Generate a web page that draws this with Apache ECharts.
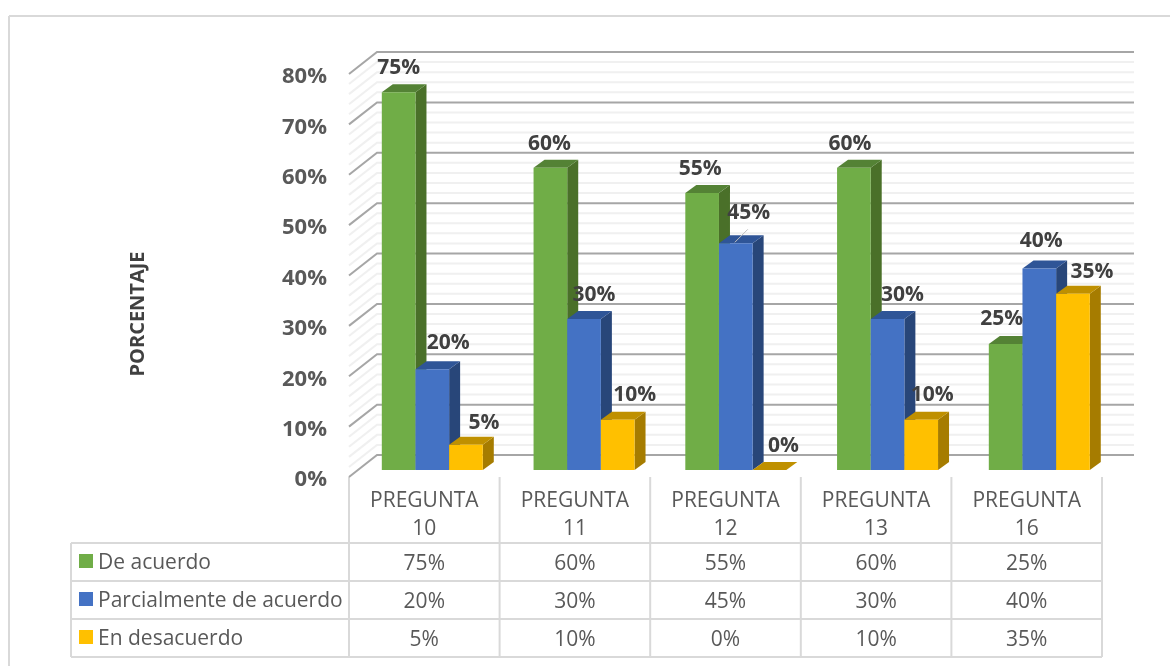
<!DOCTYPE html>
<html><head><meta charset="utf-8">
<style>html,body{margin:0;padding:0;background:#fff}#c{width:1170px;height:666px}</style>
<script src="https://cdn.jsdelivr.net/npm/echarts@6/dist/echarts.min.js"></script>
</head><body><div id="c"></div>
<script>
const categories = ['PREGUNTA\n10','PREGUNTA\n11','PREGUNTA\n12','PREGUNTA\n13','PREGUNTA\n16'];
const deAcuerdo = [75,60,55,60,25];
const parcialmente = [20,30,45,30,40];
const enDesacuerdo = [5,10,0,10,35];
const seriesNames = ['De acuerdo','Parcialmente de acuerdo','En desacuerdo'];
const majorTicks = [0,10,20,30,40,50,60,70,80];
const minorTicks = [2,4,6,8,12,14,16,18,22,24,26,28,32,34,36,38,42,44,46,48,52,54,56,58,62,64,66,68,72,74,76,78];

// layout and style, separate from the data
const FONT = '"Open Sans", sans-serif';
const G = {left:349, top:74, width:753, height:403};
const BAR = {dx:8, dy:-7, depthX:11, depthY:-8, frac:0.2235, drift:1.15};
const WALL = {dx:28, dy:-22};
const PAL = [
  {f:'#70AD47', s:'#4A7029', t:'#548235'},
  {f:'#4472C4', s:'#284679', t:'#2F5597'},
  {f:'#FFC000', s:'#A67C00', t:'#BF9000'}];
// label centre relative to the top-centre of the bar's front face
const NUDGE = [
  [[0,-24],[-1,-24],[-2,-24],[-4,-24],[-4,-25]],
  [[16,-26],[10,-24],[13,-30],[15,-24],[2,-27]],
  [[18,-22],[17,-25],[14,-24],[11,-25],[19,-22]]];

function wallSeries(ticks, color, width){
  return {type:'custom', coordinateSystem:'cartesian2d', silent:true, z:1,
    data:ticks.map(v=>[0,v]),
    encode:{x:0,y:1},
    renderItem(p,api){
      const y = api.coord([0,api.value(1)])[1];
      const cs = p.coordSys;
      return {type:'polyline', shape:{points:[
        [cs.x, y],[cs.x+WALL.dx, y+WALL.dy],[cs.x+cs.width+WALL.dx+4, y+WALL.dy]]},
        style:{stroke:color, lineWidth:width, fill:null}};
    }};
}
function barSeries(idx, values){
  const c = PAL[idx];
  return {type:'custom', name:seriesNames[idx], coordinateSystem:'cartesian2d', z:2,
    data:values.map((v,i)=>[i,v]),
    encode:{x:0,y:1},
    renderItem(p,api){
      const ci = api.value(0), v = api.value(1);
      const top = api.coord([ci,v]), base = api.coord([ci,0]);
      const w = api.size([1,0])[0]*BAR.frac;
      const x0 = top[0]+BAR.dx+ci*BAR.drift+(idx-1.5)*w, x1 = x0+w;
      const y1 = top[1]+BAR.dy, y0 = base[1]+BAR.dy;
      const dX = BAR.depthX, dY = BAR.depthY;
      const n = NUDGE[idx][ci];
      const kids = [
        {type:'polygon', shape:{points:[[x1,y0],[x1+dX,y0+dY],[x1+dX,y1+dY],[x1,y1]]}, style:{fill:c.s}},
        {type:'polygon', shape:{points:[[x0,y1],[x0+dX,y1+dY],[x1+dX,y1+dY],[x1,y1]]}, style:{fill:c.t}},
        {type:'rect', shape:{x:x0,y:y1,width:w,height:y0-y1}, style:{fill:c.f}},
        {type:'text', z2:100, style:{text:v+'%', x:x0+w/2+n[0], y:y1+n[1], align:'center', verticalAlign:'middle',
          font:'bold 21px '+FONT, fill:'#404040'}}];
      if(idx===1 && ci===2){
        kids.push({type:'line', z2:90, shape:{x1:x0+w/2-1,y1:y1-1,x2:x0+w/2+12,y2:y1-14}, style:{stroke:'#BFBFBF',lineWidth:1}});
      }
      return {type:'group', children:kids};
    }};
}

// data table under the plot
const GRID_LINE = '#D9D9D9';
const colX = categories.map((_,i)=>G.left+G.width*i/categories.length);
const rowY = [543,581,619,657];
const TABLE_LEFT = 71;
const gfx = [];
function seg(x1,y1,x2,y2){gfx.push({type:'line',shape:{x1,y1,x2,y2},style:{stroke:GRID_LINE,lineWidth:2}});}
rowY.forEach(y=>seg(TABLE_LEFT,y,G.left+G.width,y));
seg(TABLE_LEFT,rowY[0],TABLE_LEFT,rowY[3]);
colX.concat([G.left+G.width]).forEach(x=>seg(x,G.top+G.height,x,rowY[3]));
[deAcuerdo,parcialmente,enDesacuerdo].forEach((vals,r)=>{
  const cy=(rowY[r]+rowY[r+1])/2;
  gfx.push({type:'rect',shape:{x:79,y:cy-8,width:14,height:14},style:{fill:PAL[r].f}});
  gfx.push({type:'text',style:{text:seriesNames[r],x:98,y:cy+1,verticalAlign:'middle',font:'21px '+FONT,fill:'#595959'}});
  vals.forEach((v,i)=>gfx.push({type:'text',style:{text:v+'%',x:colX[i]+G.width/10,y:cy+2,align:'center',verticalAlign:'middle',font:'21px '+FONT,fill:'#595959'}}));
});
// chart frame: only the top and left edges fall inside the picture
seg(9,16,1170,16);
seg(9,16,9,666);
gfx.push({type:'text',rotation:Math.PI/2,x:138,y:314,style:{text:'PORCENTAJE',align:'center',verticalAlign:'middle',font:'bold 20px '+FONT,fill:'#404040'}});

const chart = echarts.init(document.getElementById('c'),null,{renderer:'canvas'});
chart.setOption({
  animation:false,
  backgroundColor:'#fff',
  grid:G,
  xAxis:{type:'category',data:categories,axisLine:{show:false},axisTick:{show:false},splitLine:{show:false},
    axisLabel:{interval:0,margin:10,lineHeight:28,fontFamily:FONT,fontSize:21,color:'#595959'}},
  yAxis:{type:'value',min:0,max:80,interval:10,axisLine:{show:false},axisTick:{show:false},splitLine:{show:false},
    axisLabel:{margin:22,verticalAlign:'top',lineHeight:6,formatter:'{value}%',fontFamily:FONT,fontWeight:'bold',fontSize:22,color:'#595959'}},
  series:[wallSeries(minorTicks,'#F0F0F0',2),wallSeries(majorTicks,'#A6A6A6',2),
    barSeries(0,deAcuerdo),barSeries(1,parcialmente),barSeries(2,enDesacuerdo)],
  graphic:{elements:gfx}
});
</script></body></html>
